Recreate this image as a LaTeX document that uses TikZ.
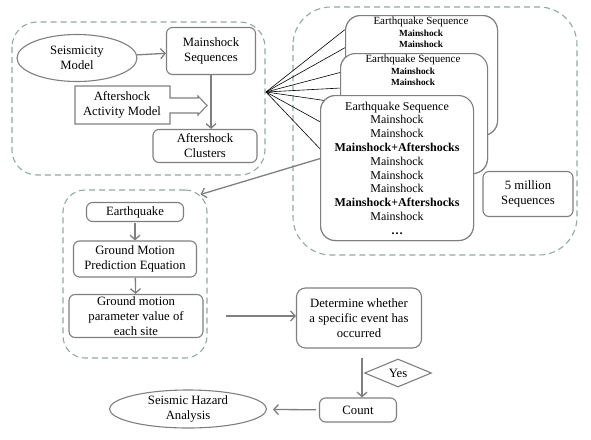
\documentclass[tikz,border=0pt]{standalone}
\usepackage{fontspec}
\setmainfont{Liberation Serif}
\definecolor{mBoxGray}{HTML}{7F7F7F}
\definecolor{mGroupTeal}{HTML}{93A9A3}
\usepackage{tikz}
\usetikzlibrary{positioning,arrows.meta,calc,shapes.geometric}

\begin{document}
\begin{tikzpicture}[x=1pt, y=-1pt, font=\fontsize{12.7}{15}\selectfont,
  box/.style={draw=mBoxGray, line width=1.1pt, rounded corners=6pt, fill=white, align=center, inner sep=2pt},
  card/.style={draw=mBoxGray, line width=1.1pt, rounded corners=15pt, fill=white},
  grp/.style={draw=mGroupTeal, line width=1.1pt, dash pattern=on 6pt off 4pt},
  flow/.style={-{Straight Barb[length=4.5pt,width=10pt]}, mBoxGray, line width=1.3pt}]
\useasboundingbox (0,0) rectangle (591,439);
% groups
\draw[grp, rounded corners=25pt] (12,22) rectangle (265,175);
\draw[grp, rounded corners=38pt] (293,7) rectangle (577,255);
\node[grp, rounded corners=22pt, minimum width=144, minimum height=168] (gmgroup) at (135,274) {};
% seismicity part
\node[ellipse, draw=mBoxGray, line width=1.1pt, align=center, minimum width=120, minimum height=47, inner sep=0pt] (seis) at (77,58) {Seismicity\\Model};
\node[box, minimum width=89, minimum height=47] (mainseq) at (211,51) {Mainshock\\Sequences};
\node[box, minimum width=104, minimum height=33] (clusters) at (205,146) {Aftershock\\Clusters};
\node[align=center, inner sep=0pt] (actmodel) at (122,105) {Aftershock\\Activity Model};
\draw[mBoxGray, line width=1.1pt] (75,86) -- (170,86) -- (170,98) -- (198,98) -- (198,96) -- (207,105.5)
  -- (198,115) -- (198,113) -- (170,113) -- (170,124) -- (75,124) -- cycle;
\draw[flow] (seis) -- (mainseq);
\draw[flow] (mainseq) -- (mainseq.south |- clusters.north);
% fan to the sequences
\coordinate (fan) at (266,92);
\node[card, minimum width=152, minimum height=120, anchor=north west] (back) at (345,15) {};
\node[card, minimum width=147, minimum height=120, anchor=north west] (mid) at (340,53) {};
\node[card, minimum width=153, minimum height=145, anchor=north west] (front) at (320,95) {};
\begin{scope}[black, line width=0.6pt]
\draw (fan) -- (back.149);
\draw (fan) -- (back.160);
\draw (fan) -- (mid.151);
\draw (fan) -- (mid.161);
\draw (fan) -- ($(front.north west)+(8,6)$);
\draw (fan) -- (front.149);
\draw (fan) -- (front.166);
\end{scope}
\node[card, minimum width=152, minimum height=120, anchor=north west] at (345,15) {};
\node[align=center, anchor=north, inner sep=0pt, font=\fontsize{11}{11.5}\selectfont] (backtxt) at (421,17)
  {Earthquake Sequence\\{\fontsize{9.3}{11.5}\selectfont\bfseries Mainshock}\\{\fontsize{9.3}{11.5}\selectfont\bfseries Mainshock}};
\node[card, minimum width=147, minimum height=120, anchor=north west] at (340,53) {};
\node[align=center, anchor=north, inner sep=0pt, font=\fontsize{11}{11.5}\selectfont] (midtxt) at (413,55)
  {Earthquake Sequence\\{\fontsize{9.3}{11.5}\selectfont\bfseries Mainshock}\\{\fontsize{9.3}{11.5}\selectfont\bfseries Mainshock}};
\node[card, minimum width=153, minimum height=145, anchor=north west, align=center, font=\fontsize{12}{13.8}\selectfont] at (320,95)
  {Earthquake Sequence\\Mainshock\\Mainshock\\\textbf{Mainshock+Aftershocks}\\Mainshock\\Mainshock\\Mainshock\\\textbf{Mainshock+Aftershocks}\\Mainshock\\\textbf{\dots}};
\node[box, minimum width=90, minimum height=45] (million) at (528,194) {5 million\\Sequences};
\draw[flow] (front.173) -- ($(gmgroup.north east)+(-7,5)$);
% ground motion part
\node[box, minimum width=97, minimum height=19] (quake) at (135,212) {Earthquake};
\node[box, minimum width=123, minimum height=36] (gmpe) at (135,259) {Ground Motion\\Prediction Equation};
\node[box, minimum width=134, minimum height=42] (gmvalue) at (136,316) {Ground motion\\parameter value of\\each site};
\draw[flow, shorten <=1pt] (quake) -- (gmpe);
\draw[flow] (gmpe) -- (gmvalue);
% decision and counting
\node[box, rounded corners=9pt, minimum width=125, minimum height=60] (decide) at (359,318) {Determine whether\\a specific event has\\occurred};
\node[box, minimum width=77, minimum height=24] (count) at (358,410) {Count};
\node[diamond, draw=mBoxGray, line width=1.1pt, aspect=2.4, minimum width=67, minimum height=28, inner sep=0pt] (yes) at (398,373) {Yes};
\node[ellipse, draw=mBoxGray, line width=1.1pt, align=center, minimum width=157, minimum height=38, inner sep=0pt] (hazard) at (188,409) {Seismic Hazard\\Analysis};
\draw[flow, shorten <=18pt] (gmgroup.east |- gmvalue) -- (decide.west |- gmvalue);
\draw[flow, shorten <=9pt] (decide.south -| 362,0) -- (count.north -| 362,0);
\draw[flow, shorten <=3pt, shorten >=6pt] (count) -- (hazard);
\end{tikzpicture}
\end{document}
